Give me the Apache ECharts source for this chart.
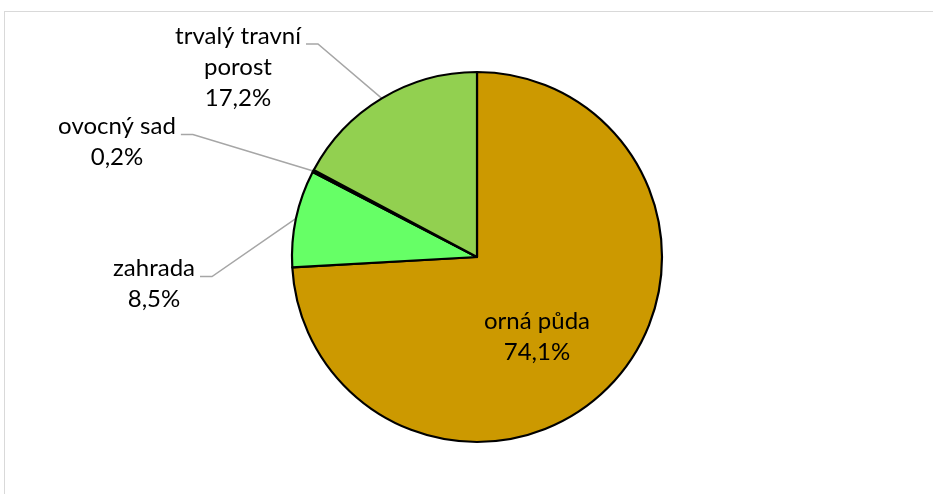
<!DOCTYPE html>
<html>
<head>
<meta charset="utf-8">
<script src="https://cdn.jsdelivr.net/npm/echarts@6/dist/echarts.min.js"></script>
<style>
  html, body { margin: 0; padding: 0; background: #fff; }
  #frame {
    position: absolute; left: 4px; top: 11px; width: 940px; height: 500px;
    border-top: 1px solid #d9d9d9; border-left: 1px solid #d9d9d9;
  }
  #chart { position: absolute; left: 0; top: 0; width: 933px; height: 494px; }
</style>
</head>
<body>
<div id="frame"></div>
<div id="chart"></div>
<script>
// podíl druhů pozemků (%), pořadí po směru hodinových ručiček od 12 h
const categories = ['orná půda', 'zahrada', 'ovocný sad', 'trvalý travní porost']
const shares = [74.1, 8.5, 0.2, 17.2]
const colors = ['#CC9900', '#66FF66', '#00B050', '#92D050']

// kam umístit popisky (střed bloku textu)
const labelPos = [
  { x: 537, y: 337 },
  { x: 154, y: 284 },
  { x: 117, y: 142 },
  { x: 238, y: 67 }
]

const chart = echarts.init(document.getElementById('chart'))

const option = {
  animation: false,
  series: [
    {
      type: 'pie',
      center: [477, 257],
      radius: 185,
      startAngle: 90,
      clockwise: true,
      data: categories.map((name, i) => ({
        name: name,
        value: shares[i],
        itemStyle: { color: colors[i] },
        label: i === 0 ? { position: 'inside' } : { position: 'outside' },
        labelLine: { show: i !== 0 }
      })),
      itemStyle: { borderColor: '#000', borderWidth: 2.2 },
      label: {
        color: '#000',
        fontFamily: 'Lato',
        fontSize: 24,
        lineHeight: 31,
        align: 'center',
        formatter: p => {
          const name = p.name === 'trvalý travní porost' ? 'trvalý travní\nporost' : p.name
          return name + '\n' + p.value.toFixed(1).replace('.', ',') + '%'
        }
      },
      labelLine: {
        lineStyle: { color: '#a6a6a6', width: 1.5 }
      },
      labelLayout: params => {
        const pos = labelPos[params.dataIndex]
        const w = params.labelRect.width
        const h = params.labelRect.height
        const res = { x: pos.x, y: pos.y, align: 'center', verticalAlign: 'middle' }
        if (params.dataIndex !== 0 && params.labelLinePoints) {
          const p0 = params.labelLinePoints[0]
          const ly = pos.y - h / 2 + 15.5 + 8
          const rx = pos.x + w / 2
          res.labelLinePoints = [p0, [rx + 17, ly], [rx + 5, ly]]
        }
        return res
      }
    }
  ]
}

chart.setOption(option)
</script>
</body>
</html>
